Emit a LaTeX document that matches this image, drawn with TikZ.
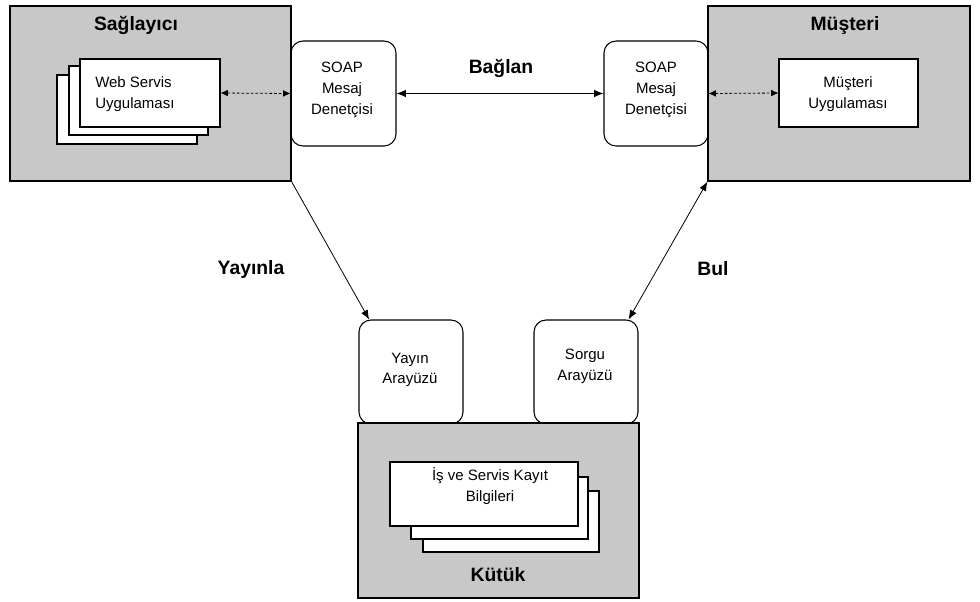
\documentclass[tikz,border=0pt]{standalone}
\usepackage{fontspec}
\setmainfont{Liberation Sans}
\usetikzlibrary{fit,arrows.meta}

\definecolor{panel}{RGB}{200,200,200}

\tikzset{
  panelbox/.style={draw, line width=0.8pt, fill=panel, inner sep=0pt},
  pagebox/.style={draw, line width=0.8pt, fill=white, inner sep=0pt},
  portbox/.style={draw, line width=0.8pt, fill=white, inner sep=0pt, rounded corners=9pt},
  txt/.style={inner sep=0pt, align=center, font=\fontsize{11.25}{15.5}\selectfont},
  title/.style={inner sep=0pt, font=\fontsize{14.5}{17}\selectfont\bfseries},
  flow/.style={line width=0.6pt, -{Latex[length=7pt,width=5.5pt]}},
  both/.style={line width=0.6pt, {Latex[length=7pt,width=5.5pt]}-{Latex[length=7pt,width=5.5pt]}},
  dotlink/.style={line width=0.6pt, dash pattern=on 2pt off 1.5pt,
    {Latex[length=5.5pt,width=5pt]}-{Latex[length=5.5pt,width=5pt]}}
}

\begin{document}
\begin{tikzpicture}[x=0.75pt,y=-0.75pt]
\useasboundingbox (0,0) rectangle (980,601);
\fill[white] (0,0) rectangle (980,601);

% port boxes (SOAP handlers and registry interfaces)
\node[portbox, fit={(291,41) (396,146)}] (soapL) {};
\node[portbox, fit={(604,41) (708,146)}] (soapR) {};
\node[portbox, fit={(359,320) (463,424)}] (pub) {};
\node[portbox, fit={(534,320) (638,424)}] (qry) {};

% grey panels
\node[panelbox, fit={(10,6) (291,181)}] (prov) {};
\node[panelbox, fit={(708,6) (970,181)}] (cust) {};
\node[panelbox, fit={(358,423) (639,598)}] (reg) {};

% stacked pages: web service application
\node[pagebox, fit={(57,75) (197,144)}] (wsback) {};
\node[pagebox, fit={(69,66) (208,135)}] (wsmid) {};
\node[pagebox, fit={(80,59) (220,127)}] (wsfront) {};

% client application
\node[pagebox, fit={(779,59) (918,127)}] (capp) {};

% stacked pages: business and service records
\node[pagebox, fit={(423,491) (599,552)}] (recback) {};
\node[pagebox, fit={(411,477) (588,539)}] (recmid) {};
\node[pagebox, fit={(390,462) (578,526)}] (recfront) {};

% titles
\node[title] (tprov) at (136,25) {Sağlayıcı};
\node[title] (tcust) at (845,25) {Müşteri};
\node[title] (treg) at (498,575) {Kütük};

% box texts
\node[txt, align=left, anchor=west] (tws) at (95,94) {Web Servis\\Uygulaması};
\node[txt] (tsoapL) at (342,90) {SOAP\\Mesaj\\Denetçisi};
\node[txt] (tsoapR) at (656,90) {SOAP\\Mesaj\\Denetçisi};
\node[txt] (tcapp) at (848,94) {Müşteri\\Uygulaması};
\node[txt] (tpub) at (410,370) {Yayın\\Arayüzü};
\node[txt] (tqry) at (585,366) {Sorgu\\Arayüzü};
\node[txt] (trec) at (490,486) {İş ve Servis Kayıt\\Bilgileri};

% connectors
\draw[dotlink] (wsfront.east) -- (soapL.west);
\draw[dotlink] (soapR.east) -- (capp.west);
\draw[both] (soapL.east) -- (soapR.west);
\draw[flow] (prov.south east) -- ([xshift=8pt]pub.north west);
\draw[both] ([xshift=-7.5pt]qry.north east) -- (cust.south west);

% connector labels
\node[title] (lbind) at (501,68) {Bağlan};
\node[title] (lpub) at (251,269) {Yayınla};
\node[title] (lfind) at (713,269) {Bul};
\end{tikzpicture}
\end{document}
